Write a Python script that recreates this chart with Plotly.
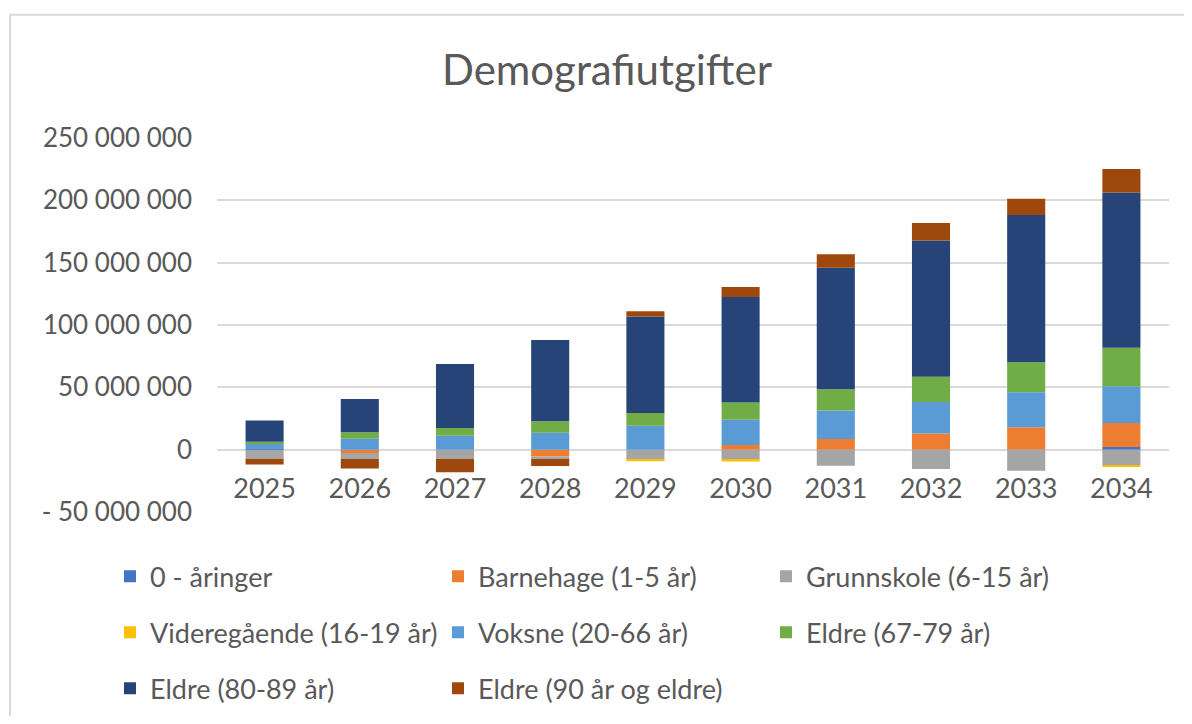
import plotly.graph_objects as go

years = ["2025", "2026", "2027", "2028", "2029", "2030", "2031", "2032", "2033", "2034"]

aaringer0 = [0.3e6, 0, 0, 0, 0, 0, 0, 0, 0, 2.2e6]
barnehage = [0, -2.6e6, 0, -5.4e6, 0, 3.7e6, 8.6e6, 12.9e6, 18.0e6, 19.2e6]
grunnskole = [-7.5e6, -4.9e6, -7.5e6, -2.1e6, -8.0e6, -8.1e6, -12.9e6, -15.5e6, -16.9e6, -12.6e6]
videregaende = [0, 0, 0, 0, -1.3e6, -1.3e6, 0, 0, 0, -1.1e6]
voksne = [4.8e6, 8.8e6, 11.2e6, 13.6e6, 19.2e6, 20.3e6, 22.9e6, 25.4e6, 28.1e6, 29.5e6]
eldre67 = [1.2e6, 5.1e6, 6.2e6, 9.1e6, 10.2e6, 13.9e6, 16.9e6, 20.1e6, 24.1e6, 30.9e6]
eldre80 = [17.0e6, 26.7e6, 51.3e6, 65.2e6, 77.4e6, 84.5e6, 97.6e6, 109.4e6, 118.1e6, 124.4e6]
eldre90 = [-4.3e6, -7.7e6, -10.7e6, -5.6e6, 4.2e6, 8.0e6, 10.7e6, 14.0e6, 12.9e6, 19.0e6]

series_names = [
    "0 - åringer", "Barnehage (1-5 år)", "Grunnskole (6-15 år)",
    "Videregående (16-19 år)", "Voksne (20-66 år)", "Eldre (67-79 år)",
    "Eldre (80-89 år)", "Eldre (90 år og eldre)",
]
series_values = [aaringer0, barnehage, grunnskole, videregaende, voksne, eldre67, eldre80, eldre90]
colors = ["#4472C4", "#ED7D31", "#A5A5A5", "#FFC000", "#5B9BD5", "#70AD47", "#264478", "#9E480E"]
legend_rows = ["legend", "legend", "legend", "legend2", "legend2", "legend2", "legend3", "legend3"]

y_tickvals = [-50e6, 0, 50e6, 100e6, 150e6, 200e6, 250e6]
y_ticktext = ["- 50 000 000", "0", "50 000 000", "100 000 000", "150 000 000", "200 000 000", "250 000 000"]

FONT = "Lato"
GREY = "#595959"

fig = go.Figure()
for name, vals, col, lg in zip(series_names, series_values, colors, legend_rows):
    fig.add_trace(go.Bar(
        x=years, y=vals, name=name, marker=dict(color=col, line=dict(width=0)),
        legend=lg,
    ))

# page body has an 8px margin on every side; keep the page exactly viewport-sized
OFF = 8
W, H = 1192 - OFF, 724 - 2 * OFF
PLOT_L, PLOT_R, PLOT_T, PLOT_B = 217 - OFF, 1169 - OFF, 138.3 - OFF, 512.3 - OFF
L, R, T, B = PLOT_L, W - PLOT_R, PLOT_T, H - PLOT_B
pw = PLOT_R - PLOT_L
ph = PLOT_B - PLOT_T

def px_x(x):
    return (x - OFF - PLOT_L) / pw

def px_y(y):
    return (PLOT_B - (y - OFF)) / ph

legend_common = dict(
    orientation="h", xanchor="left", yanchor="middle",
    font=dict(family=FONT, size=27, color=GREY),
    entrywidth=283, entrywidthmode="pixels",
    bgcolor="rgba(0,0,0,0)", itemclick=False,
)

border = dict(color="#D9D9D9", width=2)

fig.update_layout(
    width=W, height=H,
    margin=dict(l=L, r=R, t=T, b=B, autoexpand=False),
    barmode="relative",
    bargap=0.6,
    plot_bgcolor="white", paper_bgcolor="white",
    font=dict(family=FONT, color=GREY),
    title=dict(text="Demografiutgifter", x=(607 - OFF) / W, xref="container", xanchor="center",
               y=1 - (70 - OFF) / H, yref="container", yanchor="middle",
               font=dict(family=FONT, size=42, color=GREY)),
    legend=dict(x=px_x(110), y=px_y(577), **legend_common),
    legend2=dict(x=px_x(110), y=px_y(633), **legend_common),
    legend3=dict(x=px_x(110), y=px_y(689), **legend_common),
    xaxis=dict(
        type="category", anchor="free", position=1 / 6,
        showgrid=False, showline=False, ticks="", zeroline=False,
        tickfont=dict(family=FONT, size=27, color=GREY),
        ticklabelstandoff=20, automargin=False,
    ),
    yaxis=dict(
        range=[-50e6, 250e6], tickvals=y_tickvals, ticktext=y_ticktext,
        showgrid=True, gridcolor="#D9D9D9", gridwidth=1.6,
        zeroline=False, showline=False, ticks="",
        tickfont=dict(family=FONT, size=26, color=GREY),
        ticklabelstandoff=24, automargin=False,
    ),
    shapes=[
        dict(type="line", xref="paper", yref="paper",
             x0=px_x(10), x1=px_x(1200), y0=px_y(15), y1=px_y(15), line=border, layer="below"),
        dict(type="line", xref="paper", yref="paper",
             x0=px_x(10), x1=px_x(10), y0=px_y(15), y1=px_y(740), line=border, layer="below"),
    ],
)

fig.write_html("out.html")
